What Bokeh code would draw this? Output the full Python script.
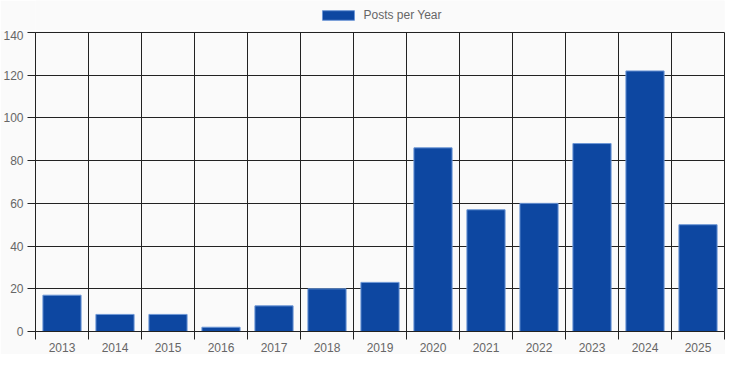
from bokeh.plotting import figure
from bokeh.layouts import column
from bokeh.models import FixedTicker, Range1d, ColumnDataSource, Legend, LegendItem
from bokeh.embed import file_html
from bokeh.resources import INLINE

years = ["2013", "2014", "2015", "2016", "2017", "2018", "2019",
         "2020", "2021", "2022", "2023", "2024", "2025"]
posts = [17, 8, 8, 2, 12, 20, 23, 86, 57, 60, 88, 122, 50]
y_ticks = [0, 20, 40, 60, 80, 100, 120, 140]
series_name = "Posts per Year"

n = len(years)
centers = [i + 0.5 for i in range(n)]
bounds = list(range(n + 1))

FONT = "Liberation Sans"
DARK = "#222222"
GREY = "#666666"
BG = "#fafafa"
BAR_FILL = "#0d47a1"
BAR_LINE = "#6d97d6"

W = 725
LEG_H = 30
MAIN_H = 324

src = ColumnDataSource(dict(x=centers, top=posts, year=years))

# ---- legend strip (above the chart, like Chart.js) ----
# hidden proxy renderer sharing the bar styling; only its legend swatch is shown
lg = figure(width=W, height=LEG_H, x_range=Range1d(0, n), y_range=Range1d(-2, -1),
            output_backend="svg", toolbar_location=None,
            x_axis_location=None, y_axis_location=None,
            background_fill_color=BG, border_fill_color=BG, outline_line_color=None,
            min_border_left=0, min_border_right=0, min_border_top=0, min_border_bottom=0)
lg.grid.visible = False
proxy = lg.vbar(x="x", top="top", width=0.72, source=src,
                fill_color=BAR_FILL, line_color=BAR_LINE, line_width=1)
proxy.visible = False
legend = Legend(items=[LegendItem(label=series_name, renderers=[proxy], index=0)],
                orientation="horizontal", location="center",
                glyph_width=40, glyph_height=12, label_standoff=6,
                label_text_font_size="12px", label_text_color=GREY, label_text_font=FONT,
                border_line_color=None, background_fill_alpha=0,
                inactive_fill_alpha=0,
                padding=2, margin=0)
lg.add_layout(legend, "center")

# ---- main chart ----
p = figure(width=W, height=MAIN_H, x_range=Range1d(0, n), y_range=Range1d(0, 140),
           output_backend="svg", toolbar_location=None,
           background_fill_color=BG, border_fill_color=BG,
           min_border_left=10, min_border_right=1, min_border_top=2, min_border_bottom=10)

p.vbar(x="x", top="top", width=0.72, source=src,
       fill_color=BAR_FILL, line_color=BAR_LINE, line_width=1)

xa = p.xaxis[0]
xa.ticker = FixedTicker(ticks=centers, minor_ticks=bounds)
xa.major_label_overrides = {c: y for c, y in zip(centers, years)}
xa.major_tick_out = 8
xa.major_tick_in = 0
xa.major_tick_line_color = None
xa.minor_tick_out = 8
xa.minor_tick_in = 0
xa.minor_tick_line_color = DARK
xa.axis_line_color = DARK
xa.major_label_standoff = 3
xa.major_label_text_font = FONT
xa.major_label_text_font_size = "12px"
xa.major_label_text_color = GREY

ya = p.yaxis[0]
ya.ticker = FixedTicker(ticks=y_ticks)
ya.major_tick_out = 8
ya.major_tick_in = 0
ya.major_tick_line_color = DARK
ya.minor_tick_line_color = None
ya.axis_line_color = DARK
ya.major_label_standoff = 4
ya.major_label_text_font = FONT
ya.major_label_text_font_size = "12px"
ya.major_label_text_color = GREY

p.xgrid.ticker = FixedTicker(ticks=bounds)
p.ygrid.ticker = FixedTicker(ticks=y_ticks)
for g in (p.xgrid, p.ygrid):
    g.grid_line_color = DARK
    g.grid_line_width = 1
p.outline_line_color = DARK

layout = column(lg, p, spacing=0)
open("out.html", "w").write(file_html(layout, INLINE))
